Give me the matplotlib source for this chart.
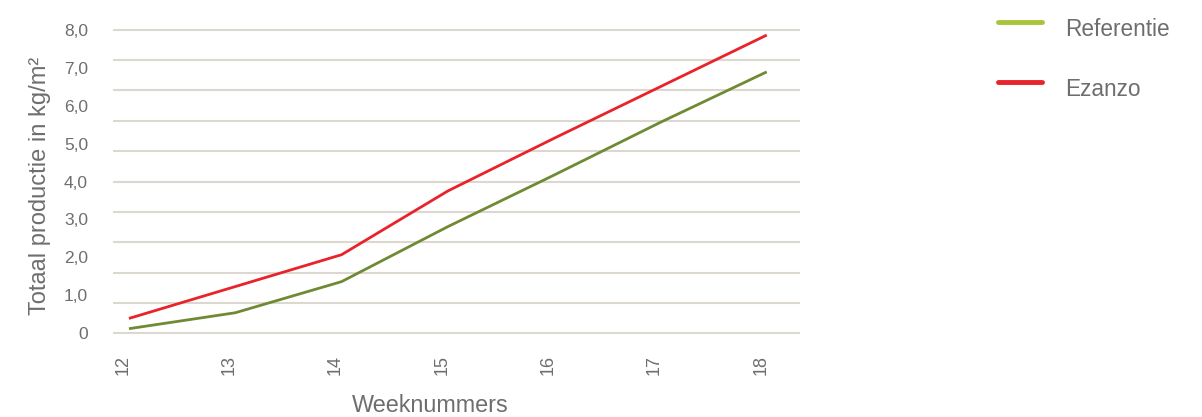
import numpy as np
import matplotlib
matplotlib.use("Agg")
import matplotlib.pyplot as plt
from matplotlib.lines import Line2D
import matplotlib.transforms as mtransforms

weeks = [12, 13, 14, 15, 16, 17, 18]
referentie = [0.12, 0.54, 1.36, 2.81, 4.17, 5.56, 6.89]
ezanzo = [0.39, 1.23, 2.07, 3.75, 5.14, 6.50, 7.86]
ytick_vals = [0, 1, 2, 3, 4, 5, 6, 7, 8]
ytick_labels = ["0", "1,0", "2,0", "3,0", "4,0", "5,0", "6,0", "7,0", "8,0"]
series_names = ["Referentie", "Ezanzo"]

plt.rcParams['font.family'] = ['Liberation Sans', 'DejaVu Sans']

W, H = 1202, 417
fig = plt.figure(figsize=(W / 100, H / 100), dpi=100)
ax = fig.add_axes([113 / W, (H - 334) / H, 687 / W, 305 / H])

green_line = "#6f8a33"
green_leg = "#a8c53a"
red = "#e8232a"
grid_c = "#dcd7d0"
text_c = "#6e6e6e"

ax.plot(weeks, referentie, color=green_line, lw=2.0, solid_capstyle='butt', zorder=3)
ax.plot(weeks, ezanzo, color=red, lw=2.0, solid_capstyle='butt', zorder=3)

ax.set_xlim(11.85, 18.313)
ax.set_ylim(-0.02, 8.02)

# gridlines every 0.8, labels at integers
for gy in np.linspace(0, 8, 11):
    ax.axhline(gy, color=grid_c, lw=1.5, zorder=0)
ax.set_yticks(ytick_vals)
ax.set_yticklabels(ytick_labels)
ax.tick_params(axis='y', which='both', length=0, pad=18, labelsize=12.5, labelcolor=text_c)

ax.set_xticks(weeks)
ax.set_xticklabels([str(w) for w in weeks], rotation=90)
ax.tick_params(axis='x', length=0, pad=15, labelsize=13, labelcolor=text_c)
offset = mtransforms.ScaledTranslation(-6 / 100, 0, fig.dpi_scale_trans)
for lbl in ax.get_xticklabels():
    lbl.set_transform(lbl.get_transform() + offset)
    lbl.set_va('top')

for s in ax.spines.values():
    s.set_visible(False)

fig.text(40 / W, 1 - 186 / H, "Totaal productie in kg/m²", rotation=90,
         ha='center', va='center', fontsize=17, color=text_c)
fig.text(430 / W, 1 - 405 / H, "Weeknummers", ha='center', va='center',
         fontsize=16.8, color=text_c)

# legend
leg_colors = [green_leg, red]
leg_y = [22, 82]
for name, c, y in zip(series_names, leg_colors, leg_y):
    fig.add_artist(Line2D([998 / W, 1042 / W], [1 - y / H, 1 - y / H], transform=fig.transFigure,
                          color=c, lw=3.5, solid_capstyle='round'))
    fig.text(1065 / W, 1 - (y + 7) / H, name, ha='left', va='center', fontsize=16.3, color=text_c)

fig.savefig("out.png", dpi=100)
